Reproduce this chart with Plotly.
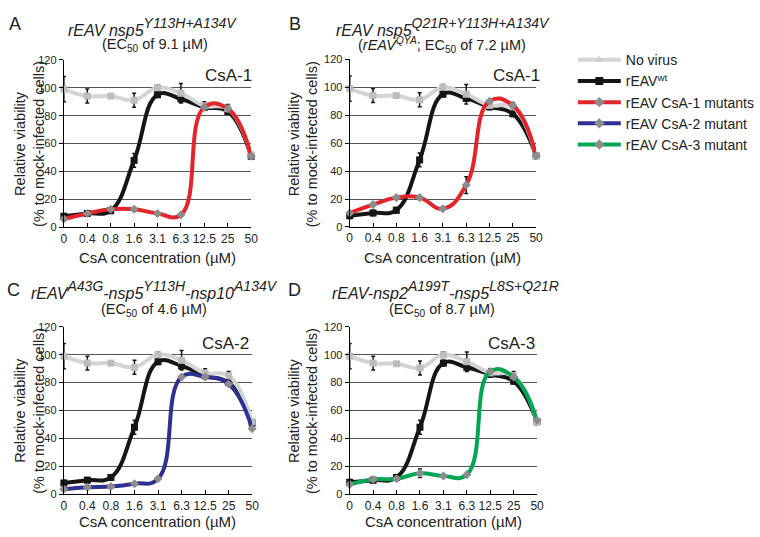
import plotly.graph_objects as go

W, H = 760, 537
FONT = "Liberation Sans, Arial, sans-serif"

def PX(x):
    return x / W

def PY(y):
    return 1 - y / H

conc_labels = ["0", "0.4", "0.8", "1.6", "3.1", "6.3", "12.5", "25", "50"]
y_ticks = [0, 20, 40, 60, 80, 100, 120]
y_tick_labels = ["0", "20", "40", "60", "80", "100", "120"]

# Panel A
novirus_A = [99, 94, 94, 91, 100, 96, 87, 85, 52]
wt_A = [8, 10, 12, 48, 95, 92, 86, 83, 51]
mut_A = [6, 10, 13, 13, 10, 9, 86, 85, 51]
# Panel B
novirus_B = [99, 94, 94, 91, 100, 95, 87, 86, 51]
wt_B = [8, 10, 12, 48, 95, 92, 86, 81, 51]
mut_B = [10, 16, 21, 21, 13, 30, 90, 87, 51]
# Panel C
novirus_C = [99, 94, 94, 91, 100, 96, 87, 85, 52]
wt_C = [8, 10, 12, 48, 95, 92, 85, 80, 51]
mut_C = [3.5, 5, 5.5, 7.5, 11, 84, 84, 79, 47]
# Panel D
novirus_D = [99, 94, 93.5, 90.5, 100, 95, 87, 85, 52]
wt_D = [8.5, 10, 12, 48, 94, 91, 86, 81, 52]
mut_D = [7, 10.5, 11, 15, 13, 14, 88, 84, 53]

novirus_err = [9, 5, 1.5, 5, 2, 7, 3, 3, 2]
wt_err = [2, 2, 2, 5, 2, 2, 2, 2, 2]
mut_err_A = [0, 0, 0, 0, 0, 0, 0, 0, 0]
mut_err_B = [0, 0, 0, 0, 0, 6, 0, 0, 0]
mut_err_C = [0, 0, 0, 0, 0, 0, 0, 0, 0]
mut_err_D = [0, 0, 0, 3, 0, 0, 0, 0, 0]

series_names = ["No virus", "rEAV<sup>wt</sup>", "rEAV CsA-1 mutants",
                "rEAV CsA-2 mutant", "rEAV CsA-3 mutant"]

C_NOV = "#d4d4d4"
C_WT = "#151515"
C_RED = "#e3242b"
C_BLUE = "#2e3192"
C_GREEN = "#00a651"
C_MK = "#8c8c8c"

panels = [
    dict(nov=novirus_A, wt=wt_A, mut=mut_A, merr=mut_err_A, color=C_RED,
         x0=63, x1=257, y0=226.5, y1=55),
    dict(nov=novirus_B, wt=wt_B, mut=mut_B, merr=mut_err_B, color=C_RED,
         x0=359, x1=552, y0=226, y1=54.5),
    dict(nov=novirus_C, wt=wt_C, mut=mut_C, merr=mut_err_C, color=C_BLUE,
         x0=63, x1=258, y0=499.3, y1=328.2),
    dict(nov=novirus_D, wt=wt_D, mut=mut_D, merr=mut_err_D, color=C_GREEN,
         x0=359, x1=553, y0=499.3, y1=328.2),
]

fig = go.Figure()
xs = list(range(len(conc_labels)))
layout = {}
for i, p in enumerate(panels):
    n = "" if i == 0 else str(i + 1)
    xa, ya = "x" + n, "y" + n
    fig.add_trace(go.Scatter(
        x=xs, y=p["wt"], xaxis=xa, yaxis=ya, mode="lines+markers", cliponaxis=False,
        line=dict(color=C_WT, width=4, shape="spline", smoothing=1.2),
        marker=dict(symbol="square", size=7, color=C_WT),
        error_y=dict(type="data", array=wt_err, color=C_WT, thickness=1.5, width=2),
        showlegend=False, hoverinfo="skip"))
    fig.add_trace(go.Scatter(
        x=xs, y=p["nov"], xaxis=xa, yaxis=ya, mode="lines+markers", cliponaxis=False,
        line=dict(color=C_NOV, width=4, shape="spline", smoothing=1.2),
        marker=dict(symbol="square", size=7, color="#bdbdbd"),
        error_y=dict(type="data", array=novirus_err, color=C_WT, thickness=1.5, width=2),
        showlegend=False, hoverinfo="skip"))
    fig.add_trace(go.Scatter(
        x=xs, y=p["mut"], xaxis=xa, yaxis=ya, mode="lines+markers", cliponaxis=False,
        line=dict(color=p["color"], width=4, shape="spline", smoothing=1.3),
        marker=dict(symbol="diamond", size=7, color=C_MK),
        error_y=dict(type="data", array=p["merr"], color=C_WT, thickness=1.5, width=2),
        showlegend=False, hoverinfo="skip"))
    layout["xaxis" + n] = dict(
        domain=[PX(p["x0"]), PX(p["x1"])], anchor=ya, range=[0, 8],
        tickmode="array", tickvals=xs, ticktext=conc_labels,
        showline=True, linecolor="black", linewidth=1.2, ticks="inside",
        ticklen=4, tickcolor="black", showgrid=False, zeroline=False,
        tickfont=dict(size=12, color="#222", family=FONT))
    layout["yaxis" + n] = dict(
        domain=[PY(p["y0"]), PY(p["y1"])], anchor=xa, range=[0, 120],
        tickmode="array", tickvals=y_ticks, ticktext=y_tick_labels,
        showline=True, linecolor="black", linewidth=1.2, ticks="outside",
        ticklen=4, tickcolor="black", showgrid=True, gridcolor="#555",
        gridwidth=1, zeroline=False,
        tickfont=dict(size=11, color="#222", family=FONT))

# legend-only traces
leg_styles = [
    (C_NOV, "triangle-up", "#cfcfcf"),
    (C_WT, "square", C_WT),
    (C_RED, "diamond", C_MK),
    (C_BLUE, "diamond", C_MK),
    (C_GREEN, "diamond", C_MK),
]
for name, (lc, sym, mc) in zip(series_names, leg_styles):
    fig.add_trace(go.Scatter(
        x=[None], y=[None], mode="lines+markers", name=name,
        line=dict(color=lc, width=4), marker=dict(symbol=sym, size=8, color=mc),
        showlegend=True))

ann = []
def add_text(text, x, y, size, angle=0):
    ann.append(dict(text=text, x=PX(x), y=PY(y), xref="paper", yref="paper",
                    showarrow=False, xanchor="center", yanchor="middle",
                    textangle=angle, font=dict(size=size, family=FONT, color="#222")))

def m(t):
    return '<span style="font-size:16px">' + t + '</span>'

def sup(t):
    return '<sup><span style="font-size:14px">' + t + '</span></sup>'

# panel letters
add_text("A", 12, 18, 18)
add_text("B", 302, 18, 18)
add_text("C", 11, 290, 18)
add_text("D", 302, 290, 18)

# titles (base size a bit larger so the superscripts sit higher, as in the original)
TS = 19
add_text("<i>" + m("rEAV nsp5") + sup("Y113H+A134V") + "</i>", 155, 21, TS)
add_text("(EC<sub>50</sub> of 9.1 µM)", 157, 40, 14.5)
add_text("<i>" + m("rEAV nsp5") + sup("Q21R+Y113H+A134V") + "</i>", 456, 21, TS)
add_text("(<i>rEAV<sup>QYA</sup></i>; EC<sub>50</sub> of 7.2 µM)", 455, 40, 14.5)
add_text("<i>" + m("rEAV") + sup("A43G") + m("-nsp5") + sup("Y113H") + m("-nsp10") + sup("A134V") + "</i>", 157, 290, TS)
add_text("(EC<sub>50</sub> of 4.6 µM)", 156, 311, 14.5)
add_text("<i>" + m("rEAV-nsp2") + sup("A199T") + m("-nsp5") + sup("L8S+Q21R") + "</i>", 458, 290, TS)
add_text("(EC<sub>50</sub> of 8.7 µM)", 455, 311, 14.5)

# CsA labels
add_text("CsA-1", 234, 71, 17)
add_text("CsA-1", 532, 71, 17)
add_text("CsA-2", 230, 345, 17)
add_text("CsA-3", 527, 345, 17)

# axis titles
for (cx, cy) in [(28, 141), (311, 141), (28, 414), (311, 414)]:
    add_text("Relative viability<br>(% to mock-infected cells)", cx, cy, 14.5, angle=-90)
for (cx, cy) in [(160, 257), (455, 257), (160, 527), (456, 527)]:
    add_text("CsA concentration (µM)", cx, cy, 15)

fig.update_layout(
    width=W, height=H, margin=dict(l=0, r=0, t=0, b=0),
    paper_bgcolor="white", plot_bgcolor="white",
    font=dict(family=FONT, color="#222"),
    annotations=ann,
    legend=dict(x=PX(590), y=PY(39), xanchor="left", yanchor="top",
                font=dict(size=14, family=FONT, color="#222"),
                bgcolor="rgba(0,0,0,0)", itemwidth=43, tracegroupgap=0),
    **layout)

# remove the browser's default 8px body margin so the figure fills the window
fig.write_html("out.html", config={"displayModeBar": False},
               post_script="document.body.style.margin='0';")
